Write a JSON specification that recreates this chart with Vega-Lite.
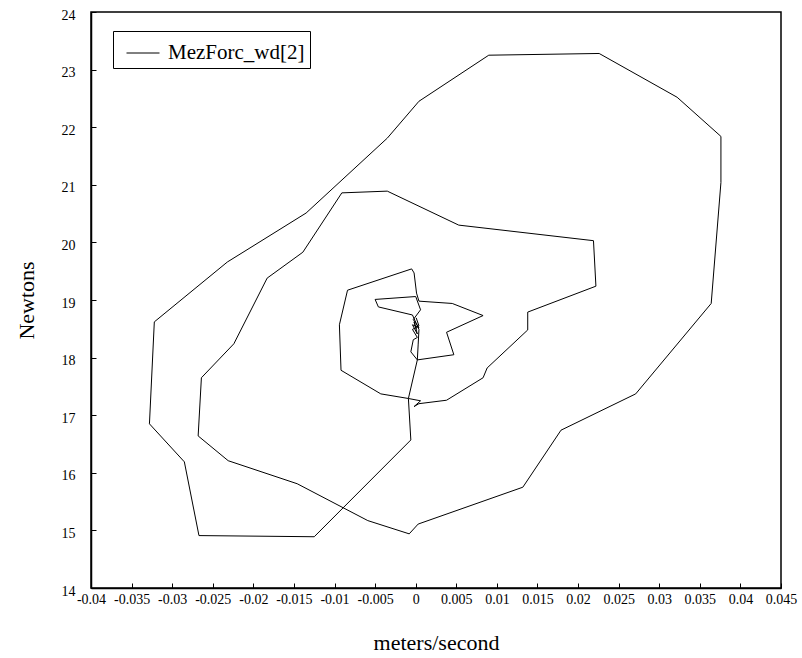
{
  "$schema": "https://vega.github.io/schema/vega-lite/v6.json",
  "width": 690,
  "height": 576,
  "autosize": {"type": "none"},
  "padding": {"left": 91, "top": 12, "right": 21, "bottom": 70},
  "background": "white",
  "config": {
    "font": "Liberation Serif",
    "view": {"stroke": "black", "strokeWidth": 1.5},
    "axis": {"grid": false, "domainColor": "black", "domainWidth": 1.5, "tickColor": "black", "labelColor": "black", "titleColor": "black", "labelFont": "Liberation Serif", "titleFont": "Liberation Serif", "titleFontWeight": "normal"}
  },
  "data": {
    "values": [
      {"i": 1, "v": 0.00006, "f": 18.69, "s": "MezForc_wd[2]"},
      {"i": 2, "v": 0.0004, "f": 18.55, "s": "MezForc_wd[2]"},
      {"i": 3, "v": -0.0004, "f": 18.49, "s": "MezForc_wd[2]"},
      {"i": 4, "v": 0.0002, "f": 18.35, "s": "MezForc_wd[2]"},
      {"i": 5, "v": -0.0003, "f": 18.31, "s": "MezForc_wd[2]"},
      {"i": 6, "v": -0.0006, "f": 18.10, "s": "MezForc_wd[2]"},
      {"i": 7, "v": 0.0002, "f": 17.96, "s": "MezForc_wd[2]"},
      {"i": 8, "v": -0.0009, "f": 17.29, "s": "MezForc_wd[2]"},
      {"i": 9, "v": -0.0006, "f": 16.57, "s": "MezForc_wd[2]"},
      {"i": 10, "v": -0.0125, "f": 14.89, "s": "MezForc_wd[2]"},
      {"i": 11, "v": -0.0267, "f": 14.91, "s": "MezForc_wd[2]"},
      {"i": 12, "v": -0.0285, "f": 16.19, "s": "MezForc_wd[2]"},
      {"i": 13, "v": -0.0328, "f": 16.85, "s": "MezForc_wd[2]"},
      {"i": 14, "v": -0.0322, "f": 18.62, "s": "MezForc_wd[2]"},
      {"i": 15, "v": -0.0232, "f": 19.66, "s": "MezForc_wd[2]"},
      {"i": 16, "v": -0.0135, "f": 20.51, "s": "MezForc_wd[2]"},
      {"i": 17, "v": -0.0035, "f": 21.81, "s": "MezForc_wd[2]"},
      {"i": 19, "v": 0.0004, "f": 22.45, "s": "MezForc_wd[2]"},
      {"i": 20, "v": 0.0090, "f": 23.25, "s": "MezForc_wd[2]"},
      {"i": 21, "v": 0.0226, "f": 23.28, "s": "MezForc_wd[2]"},
      {"i": 22, "v": 0.0322, "f": 22.52, "s": "MezForc_wd[2]"},
      {"i": 23, "v": 0.0376, "f": 21.84, "s": "MezForc_wd[2]"},
      {"i": 24, "v": 0.0376, "f": 21.04, "s": "MezForc_wd[2]"},
      {"i": 25, "v": 0.0364, "f": 18.94, "s": "MezForc_wd[2]"},
      {"i": 26, "v": 0.0271, "f": 17.37, "s": "MezForc_wd[2]"},
      {"i": 27, "v": 0.0179, "f": 16.74, "s": "MezForc_wd[2]"},
      {"i": 28, "v": 0.0132, "f": 15.75, "s": "MezForc_wd[2]"},
      {"i": 29, "v": 0.0003, "f": 15.11, "s": "MezForc_wd[2]"},
      {"i": 30, "v": -0.0008, "f": 14.94, "s": "MezForc_wd[2]"},
      {"i": 31, "v": -0.0059, "f": 15.17, "s": "MezForc_wd[2]"},
      {"i": 32, "v": -0.0146, "f": 15.81, "s": "MezForc_wd[2]"},
      {"i": 33, "v": -0.0231, "f": 16.21, "s": "MezForc_wd[2]"},
      {"i": 34, "v": -0.0268, "f": 16.64, "s": "MezForc_wd[2]"},
      {"i": 35, "v": -0.0264, "f": 17.65, "s": "MezForc_wd[2]"},
      {"i": 36, "v": -0.0224, "f": 18.24, "s": "MezForc_wd[2]"},
      {"i": 37, "v": -0.0183, "f": 19.38, "s": "MezForc_wd[2]"},
      {"i": 38, "v": -0.0139, "f": 19.83, "s": "MezForc_wd[2]"},
      {"i": 39, "v": -0.0091, "f": 20.86, "s": "MezForc_wd[2]"},
      {"i": 40, "v": -0.0035, "f": 20.89, "s": "MezForc_wd[2]"},
      {"i": 41, "v": 0.0053, "f": 20.30, "s": "MezForc_wd[2]"},
      {"i": 42, "v": 0.0219, "f": 20.03, "s": "MezForc_wd[2]"},
      {"i": 43, "v": 0.0222, "f": 19.24, "s": "MezForc_wd[2]"},
      {"i": 44, "v": 0.0138, "f": 18.79, "s": "MezForc_wd[2]"},
      {"i": 45, "v": 0.0138, "f": 18.48, "s": "MezForc_wd[2]"},
      {"i": 46, "v": 0.0088, "f": 17.82, "s": "MezForc_wd[2]"},
      {"i": 47, "v": 0.0083, "f": 17.65, "s": "MezForc_wd[2]"},
      {"i": 48, "v": 0.0038, "f": 17.26, "s": "MezForc_wd[2]"},
      {"i": 49, "v": 0.0004, "f": 17.20, "s": "MezForc_wd[2]"},
      {"i": 50, "v": -0.0002, "f": 17.15, "s": "MezForc_wd[2]"},
      {"i": 51, "v": 0.0006, "f": 17.25, "s": "MezForc_wd[2]"},
      {"i": 52, "v": -0.0009, "f": 17.29, "s": "MezForc_wd[2]"},
      {"i": 53, "v": -0.0043, "f": 17.37, "s": "MezForc_wd[2]"},
      {"i": 54, "v": -0.0092, "f": 17.78, "s": "MezForc_wd[2]"},
      {"i": 55, "v": -0.0094, "f": 18.57, "s": "MezForc_wd[2]"},
      {"i": 56, "v": -0.0084, "f": 19.17, "s": "MezForc_wd[2]"},
      {"i": 57, "v": -0.0005, "f": 19.54, "s": "MezForc_wd[2]"},
      {"i": 58, "v": -0.0002, "f": 19.47, "s": "MezForc_wd[2]"},
      {"i": 59, "v": 0.0001, "f": 19.12, "s": "MezForc_wd[2]"},
      {"i": 60, "v": 0.0004, "f": 18.98, "s": "MezForc_wd[2]"},
      {"i": 61, "v": 0.0045, "f": 18.94, "s": "MezForc_wd[2]"},
      {"i": 62, "v": 0.0083, "f": 18.73, "s": "MezForc_wd[2]"},
      {"i": 63, "v": 0.0038, "f": 18.44, "s": "MezForc_wd[2]"},
      {"i": 64, "v": 0.0047, "f": 18.05, "s": "MezForc_wd[2]"},
      {"i": 65, "v": 0.0002, "f": 17.96, "s": "MezForc_wd[2]"},
      {"i": 66, "v": 0.0003, "f": 18.22, "s": "MezForc_wd[2]"},
      {"i": 67, "v": 0.0004, "f": 18.49, "s": "MezForc_wd[2]"},
      {"i": 68, "v": -0.0004, "f": 18.74, "s": "MezForc_wd[2]"},
      {"i": 69, "v": -0.0046, "f": 18.88, "s": "MezForc_wd[2]"},
      {"i": 70, "v": -0.0050, "f": 19.01, "s": "MezForc_wd[2]"},
      {"i": 71, "v": 0.0000, "f": 19.06, "s": "MezForc_wd[2]"},
      {"i": 72, "v": 0.0006, "f": 18.83, "s": "MezForc_wd[2]"},
      {"i": 73, "v": -0.0003, "f": 18.66, "s": "MezForc_wd[2]"},
      {"i": 74, "v": 0.0004, "f": 18.52, "s": "MezForc_wd[2]"},
      {"i": 75, "v": -0.0004, "f": 18.57, "s": "MezForc_wd[2]"},
      {"i": 76, "v": 0.0002, "f": 18.41, "s": "MezForc_wd[2]"},
      {"i": 77, "v": -0.0002, "f": 18.62, "s": "MezForc_wd[2]"},
      {"i": 78, "v": 0.0001, "f": 18.49, "s": "MezForc_wd[2]"}
    ]
  },
  "mark": {"type": "line", "strokeWidth": 1, "clip": true},
  "encoding": {
    "x": {
      "field": "v", "type": "quantitative",
      "scale": {"domain": [-0.04, 0.045], "nice": false, "zero": false},
      "axis": {
        "title": "meters/second", "titleFontSize": 22, "titlePadding": 26,
        "values": [-0.04, -0.035, -0.03, -0.025, -0.02, -0.015, -0.01, -0.005, 0, 0.005, 0.01, 0.015, 0.02, 0.025, 0.03, 0.035, 0.04, 0.045],
        "labelExpr": "datum.value < 0 ? '-' + format(-datum.value, '~g') : format(datum.value, '~g')",
        "labelFontSize": 14, "labelOverlap": false, "labelFlush": false, "labelBound": false,
        "tickSize": -5, "labelPadding": 9
      }
    },
    "y": {
      "field": "f", "type": "quantitative",
      "scale": {"domain": [14, 24], "nice": false, "zero": false},
      "axis": {
        "title": "Newtons", "titleFontSize": 22, "titlePadding": 23,
        "values": [14, 15, 16, 17, 18, 19, 20, 21, 22, 23, 24],
        "labelFontSize": 14, "labelOverlap": false, "labelFlush": false, "labelBound": false,
        "tickSize": -5, "labelPadding": 21, "labelOffset": 3
      }
    },
    "order": {"field": "i", "type": "quantitative"},
    "color": {
      "field": "s", "type": "nominal",
      "scale": {"range": ["black"]},
      "legend": {
        "title": null, "orient": "none", "legendX": 22, "legendY": 19,
        "strokeColor": "black", "padding": 5, "symbolOffset": 8, "symbolType": "stroke", "symbolSize": 1089,
        "symbolStrokeWidth": 1, "labelFontSize": 21, "labelFont": "Liberation Serif", "labelColor": "black", "labelOffset": 8
      }
    }
  }
}
